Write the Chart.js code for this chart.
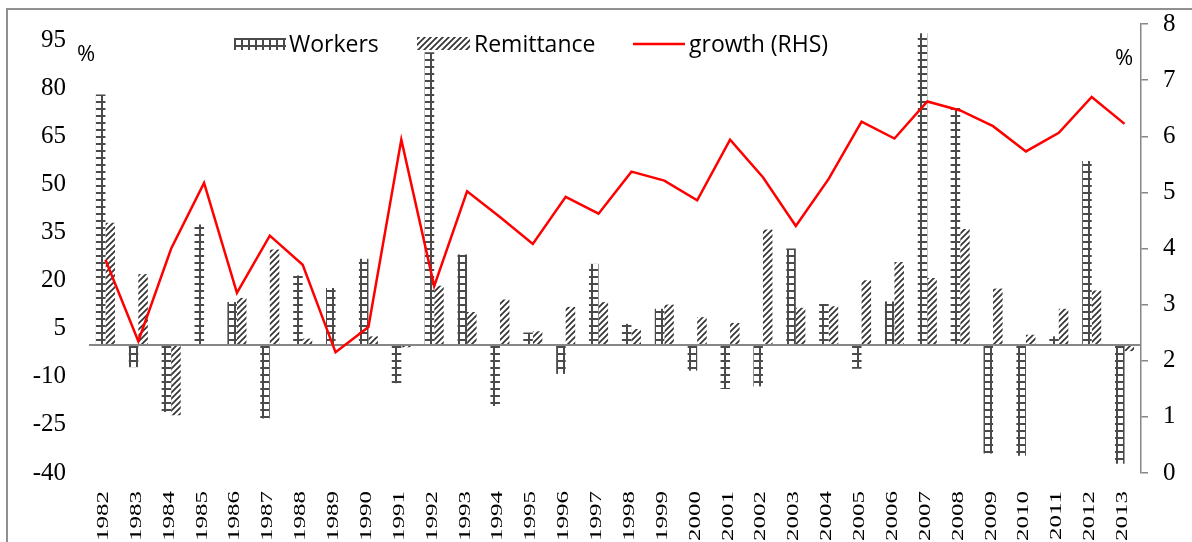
<!DOCTYPE html>
<html><head><meta charset="utf-8">
<script src="https://cdn.jsdelivr.net/npm/chart.js@4"></script>
<style>
html,body{margin:0;padding:0;background:#fff;overflow:hidden}
#wrap{position:relative;width:1192px;height:542px;overflow:hidden}
#frame{position:absolute;left:6px;top:8px;width:1400px;height:800px;border-left:2px solid #909090;border-top:2px solid #909090;pointer-events:none}
canvas{display:block}
</style></head><body>
<div id="wrap"><canvas id="c" width="1192" height="542"></canvas><div id="frame"></div></div>
<script>
const years = ['1982','1983','1984','1985','1986','1987','1988','1989','1990','1991','1992','1993','1994','1995','1996','1997','1998','1999','2000','2001','2002','2003','2004','2005','2006','2007','2008','2009','2010','2011','2012','2013'];
const workers = [78, -7, -21, 37.5, 13.3, -23, 21.6, 17.7, 26.8, -12, 91.2, 28.1, -19.1, 3.8, -9.1, 25.2, 6.5, 11.2, -8.1, -13.8, -13, 30, 12.7, -7.5, 13.5, 97.1, 73.8, -33.9, -34.6, 2.6, 57.3, -37.1];
const remittance = [38, 22, -22, 0, 14.6, 29.7, 1.9, 0, 2.6, -0.8, 18.4, 10.2, 14.1, 4.2, 11.8, 13.3, 4.9, 12.5, 8.6, 6.8, 35.9, 11.5, 12.0, 20.1, 25.8, 20.8, 36.1, 17.5, 3.1, 11.2, 16.9, -2];
const growth = [3.80, 2.35, 4.00, 5.17, 3.21, 4.23, 3.71, 2.15, 2.60, 5.94, 3.33, 5.02, 4.56, 4.08, 4.92, 4.62, 5.37, 5.21, 4.86, 5.94, 5.27, 4.40, 5.24, 6.26, 5.96, 6.62, 6.46, 6.18, 5.73, 6.06, 6.70, 6.22];
const leftTicks = [-40, -25, -10, 5, 20, 35, 50, 65, 80, 95];
const rightTicks = [0, 1, 2, 3, 4, 5, 6, 7, 8];
const seriesNames = ['Workers', 'Remittance', 'growth (RHS)'];
const unitLabel = '%';

function gridPattern() {
  const c = document.createElement('canvas'); c.width = 7; c.height = 7;
  const g = c.getContext('2d');
  g.fillStyle = '#fff'; g.fillRect(0, 0, 7, 7);
  g.fillStyle = '#4a4a4a';
  g.fillRect(3, 0, 2, 7);
  g.fillRect(0, 3, 7, 2);
  return g.createPattern(c, 'repeat');
}
function hatchPattern() {
  const s = 6;
  const c = document.createElement('canvas'); c.width = s; c.height = s;
  const g = c.getContext('2d');
  g.fillStyle = '#fff'; g.fillRect(0, 0, s, s);
  g.strokeStyle = '#333'; g.lineWidth = 1.7;
  g.beginPath();
  g.moveTo(0, s); g.lineTo(s, 0);
  g.moveTo(-1, 1); g.lineTo(1, -1);
  g.moveTo(s - 1, s + 1); g.lineTo(s + 1, s - 1);
  g.stroke();
  return g.createPattern(c, 'repeat');
}
const wPat = gridPattern();
const rPat = hatchPattern();

const zeroLine = {
  id: 'zeroLine',
  afterDatasetDraw(chart, args) {
    if (args.meta.type !== 'bar') return;
    const {ctx, chartArea: a, scales: {y}} = chart;
    const py = Math.round(y.getPixelForValue(0));
    ctx.save();
    ctx.strokeStyle = '#868686'; ctx.lineWidth = 2;
    ctx.beginPath(); ctx.moveTo(a.left, py); ctx.lineTo(a.right, py); ctx.stroke();
    ctx.restore();
  }
};

const xLabels = {
  id: 'xLabels',
  afterDraw(chart) {
    const {ctx, scales: {x}} = chart;
    ctx.save();
    ctx.font = '25px "Liberation Serif"';
    ctx.fillStyle = '#000';
    ctx.textAlign = 'right';
    ctx.textBaseline = 'alphabetic';
    years.forEach((t, i) => {
      const px = x.getPixelForValue(i) - 3;
      ctx.save();
      ctx.translate(px + 5.5, 491);
      ctx.rotate(-Math.PI / 2);
      ctx.scale(1.0, 0.66);
      ctx.fillText(t, 0, 0);
      ctx.restore();
    });
    ctx.restore();
  }
};

const legendAndUnits = {
  id: 'legendAndUnits',
  afterDraw(chart) {
    const ctx = chart.ctx;
    ctx.save();
    ctx.font = '23px "Open Sans"';
    ctx.fillStyle = '#000';
    ctx.textAlign = 'left';
    ctx.textBaseline = 'middle';
    ctx.fillStyle = wPat; ctx.fillRect(234, 38, 52, 12);
    ctx.fillStyle = '#000'; ctx.fillText(seriesNames[0], 289, 45);
    ctx.fillStyle = rPat; ctx.fillRect(417, 37, 53, 13);
    ctx.fillStyle = '#000'; ctx.fillText(seriesNames[1], 474, 45);
    ctx.strokeStyle = '#ff0000'; ctx.lineWidth = 2.5;
    ctx.beginPath(); ctx.moveTo(633, 44); ctx.lineTo(685, 44); ctx.stroke();
    ctx.fillText(seriesNames[2], 689, 45);
    ctx.font = '22px "Open Sans"';
    ctx.fillText(unitLabel, 77, 55);
    ctx.fillText(unitLabel, 1115, 59);
    ctx.restore();
  }
};

function fixWidth(w) {
  return s => { s.width = w; s.paddingTop = 0; s.paddingBottom = 0; };
}

new Chart(document.getElementById('c'), {
  type: 'bar',
  data: {
    labels: years,
    datasets: [
      {type: 'line', label: seriesNames[2], data: growth, yAxisID: 'y1', borderColor: '#ff0000', borderWidth: 2.5, pointRadius: 0, tension: 0, fill: false, order: 0},
      {type: 'bar', label: seriesNames[0], data: workers, yAxisID: 'y', backgroundColor: wPat, borderWidth: 0, categoryPercentage: 0.58, barPercentage: 1, order: 1},
      {type: 'bar', label: seriesNames[1], data: remittance, yAxisID: 'y', backgroundColor: rPat, borderWidth: 0, categoryPercentage: 0.58, barPercentage: 1, order: 1}
    ]
  },
  options: {
    responsive: false,
    animation: false,
    devicePixelRatio: 1,
    layout: {padding: {left: 0, right: 0, top: 24, bottom: 69}},
    plugins: {legend: {display: false}, tooltip: {enabled: false}},
    scales: {
      x: {display: false, offset: true, grid: {display: false}},
      y: {
        position: 'left', min: -40, max: 100,
        afterBuildTicks: s => { s.ticks = leftTicks.map(v => ({value: v})); },
        afterFit: fixWidth(89),
        grid: {display: false, drawTicks: false},
        border: {display: false},
        ticks: {font: {family: '"Liberation Serif"', size: 25}, color: '#000', padding: 23}
      },
      y1: {
        position: 'right', min: 0, max: 8,
        afterBuildTicks: s => { s.ticks = rightTicks.map(v => ({value: v})); },
        afterFit: fixWidth(51),
        grid: {display: true, drawOnChartArea: false, drawTicks: true, tickLength: 7, color: '#868686', lineWidth: 1.5},
        border: {display: true, color: '#868686', width: 1.5},
        ticks: {font: {family: '"Liberation Serif"', size: 25}, color: '#000', padding: 15}
      }
    }
  },
  plugins: [zeroLine, xLabels, legendAndUnits]
});
</script>
</body></html>
